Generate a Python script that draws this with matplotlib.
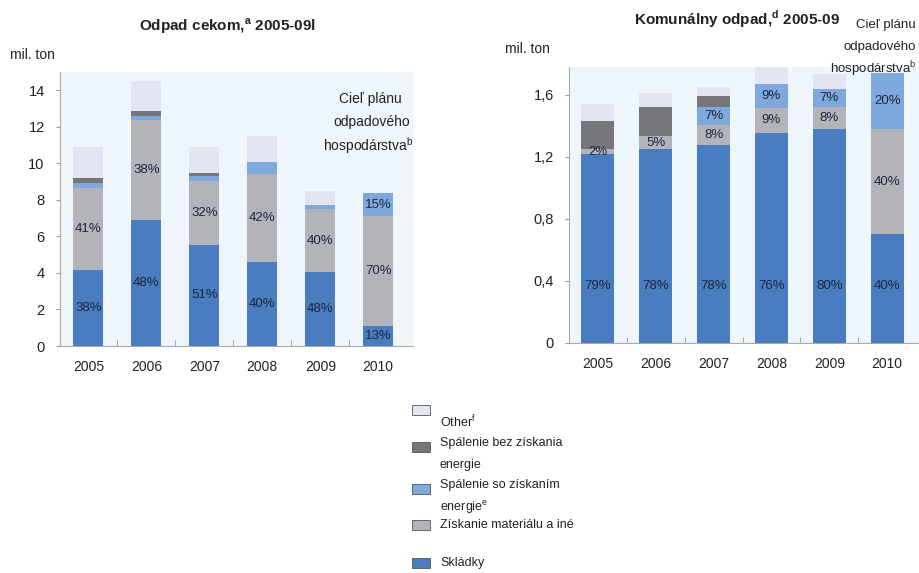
import numpy as np
import matplotlib.pyplot as plt
from matplotlib.patches import Rectangle
from matplotlib.ticker import FuncFormatter

plt.rcParams['font.family'] = ['Liberation Sans', 'DejaVu Sans']
plt.rcParams['mathtext.fontset'] = 'custom'
plt.rcParams['mathtext.rm'] = 'Liberation Sans'
plt.rcParams['mathtext.bf'] = 'Liberation Sans:bold'

years = ['2005', '2006', '2007', '2008', '2009', '2010']

# Odpad cekom (mil. ton)
left_landfill = [4.14, 6.90, 5.54, 4.59, 4.05, 1.09]
left_material = [4.50, 5.45, 3.50, 4.85, 3.45, 6.00]
left_energy = [0.30, 0.22, 0.27, 0.65, 0.22, 1.27]
left_noenergy = [0.25, 0.28, 0.15, 0.00, 0.00, 0.00]
left_other = [1.70, 1.65, 1.45, 1.40, 0.78, 0.00]
left_lbl_landfill = ['38%', '48%', '51%', '40%', '48%', '13%']
left_lbl_material = ['41%', '38%', '32%', '42%', '40%', '70%']
left_lbl_energy = ['', '', '', '', '', '15%']

# Komunalny odpad (mil. ton)
right_landfill = [1.220, 1.250, 1.277, 1.357, 1.380, 0.700]
right_material = [0.030, 0.085, 0.130, 0.160, 0.140, 0.680]
right_energy = [0.000, 0.000, 0.115, 0.155, 0.117, 0.360]
right_noenergy = [0.180, 0.185, 0.070, 0.000, 0.000, 0.000]
right_other = [0.110, 0.090, 0.060, 0.130, 0.100, 0.000]
right_lbl_landfill = ['79%', '78%', '78%', '76%', '80%', '40%']
right_lbl_material = ['2%', '5%', '8%', '9%', '8%', '40%']
right_lbl_energy = ['', '', '7%', '9%', '7%', '20%']

c_landfill = '#4a7cc0'
c_material = '#b3b4b9'
c_energy = '#7fa8dc'
c_noenergy = '#75767b'
c_other = '#e3e6f2'
c_bg = '#eef5fb'
c_txt = '#222222'
c_lbl = '#1c2740'

W, H = 919, 573
fig = plt.figure(figsize=(W / 100, H / 100), dpi=100)


def px(x, y):
    return x / W, 1 - y / H


def draw_panel(ax, series, labels, ymax, yticks, fmt, width, landfill_lbl_y=None):
    x = np.arange(len(years))
    bottom = np.zeros(len(years))
    colors = [c_landfill, c_material, c_energy, c_noenergy, c_other]
    for i, (vals, col) in enumerate(zip(series, colors)):
        vals = np.array(vals)
        ax.bar(x, vals, width, bottom=bottom, color=col, edgecolor='none', zorder=2)
        if i < len(labels):
            for j, t in enumerate(labels[i]):
                if not t:
                    continue
                yc = bottom[j] + vals[j] / 2
                if i == 0 and landfill_lbl_y is not None:
                    yc = landfill_lbl_y
                ax.text(x[j], yc, t, ha='center', va='center', fontsize=9.5,
                        color=c_lbl, zorder=3)
        bottom += vals
    ax.set_facecolor(c_bg)
    ax.set_ylim(0, ymax)
    ax.set_yticks(yticks)
    ax.yaxis.set_major_formatter(FuncFormatter(fmt))
    ax.set_xticks(x)
    ax.set_xticklabels(years)
    ax.set_xticks(x[:-1] + 0.5, minor=True)
    ax.tick_params(axis='x', which='major', length=0, pad=10, labelsize=10, colors=c_txt)
    ax.tick_params(axis='x', which='minor', length=4, direction='in', color='#999999')
    ax.tick_params(axis='y', length=3, color='#999999', pad=8, labelsize=10.5,
                   labelcolor=c_txt)
    for s in ['top', 'right']:
        ax.spines[s].set_visible(False)
    for s in ['left', 'bottom']:
        ax.spines[s].set_color('#aaaaaa')
        ax.spines[s].set_linewidth(0.8)


# left panel
ax1 = fig.add_axes([60 / W, 1 - 346 / H, 353 / W, 274 / H])
draw_panel(ax1, [left_landfill, left_material, left_energy, left_noenergy, left_other],
           [left_lbl_landfill, left_lbl_material, left_lbl_energy],
           15, np.arange(0, 15, 2), lambda v, p: f'{v:.0f}', 0.52)
ax1.set_xlim(-0.49, 5.6)

# right panel
ax2 = fig.add_axes([569 / W, 1 - 343 / H, 350 / W, 276 / H])
draw_panel(ax2, [right_landfill, right_material, right_energy, right_noenergy, right_other],
           [right_lbl_landfill, right_lbl_material, right_lbl_energy],
           1.78, [0, 0.4, 0.8, 1.2, 1.6],
           lambda v, p: '0' if v == 0 else f'{v:.1f}'.replace('.', ','), 0.57,
           landfill_lbl_y=0.37)
ax2.set_xlim(-0.5, 5.55)

# titles and notes
fig.text(*px(228, 26), r'Odpad cekom,$^{\mathbf{a}}$ 2005-09l', ha='center', va='center',
         fontsize=11, fontweight='bold', color=c_txt)
fig.text(*px(737, 19), r'Komunálny odpad,$^{\mathbf{d}}$ 2005-09', ha='center', va='center',
         fontsize=11, fontweight='bold', color=c_txt)
fig.text(*px(32, 55), 'mil. ton', ha='center', va='center', fontsize=10, color=c_txt)
fig.text(*px(527, 49), 'mil. ton', ha='center', va='center', fontsize=10, color=c_txt)

fig.text(*px(370, 99), 'Cieľ plánu', ha='center', va='center', fontsize=10, color=c_txt)
fig.text(*px(372, 122), 'odpadového', ha='center', va='center', fontsize=10, color=c_txt)
fig.text(*px(368, 146), r'hospodárstva$^{\mathrm{b}}$', ha='center', va='center',
         fontsize=10, color=c_txt)

fig.text(*px(916, 25), 'Cieľ plánu', ha='right', va='center', fontsize=9.5, color=c_txt)
fig.text(*px(916, 47), 'odpadového', ha='right', va='center', fontsize=9.5, color=c_txt)
fig.text(*px(916, 69), r'hospodárstva$^{\mathrm{b}}$', ha='right', va='center',
         fontsize=9.5, color=c_txt)

# legend
legend_items = [
    (c_other, 410, [(r'Other$^{\mathrm{f}}$', 422)]),
    (c_noenergy, 447, [('Spálenie bez získania', 443), ('energie', 465)]),
    (c_energy, 489, [('Spálenie so získaním', 485), (r'energie$^{\mathrm{e}}$', 508)]),
    (c_material, 525, [('Získanie materiálu a iné', 525)]),
    (c_landfill, 563, [('Skládky', 563)]),
]
for col, yc, texts in legend_items:
    x0, y0 = px(412, yc + 5)
    fig.patches.append(Rectangle((x0, y0), 18 / W, 10 / H, transform=fig.transFigure,
                                 facecolor=col, edgecolor='#555555', linewidth=0.6))
    for t, ty in texts:
        fig.text(*px(440, ty), t, ha='left', va='center', fontsize=9, color=c_txt)

fig.savefig('out.png', dpi=100)
